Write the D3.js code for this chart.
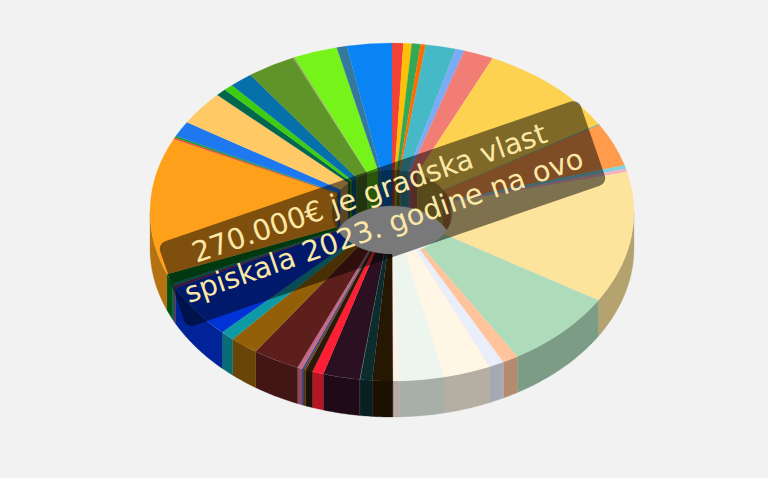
<!DOCTYPE html>
<html>
<head>
<meta charset="utf-8">
<script src="https://cdn.jsdelivr.net/npm/d3@7"></script>
<style>
    html, body { margin: 0; padding: 0; background: #f2f2f2; }
    svg { display: block; }
</style>
</head>
<body>
<div id="chart"></div>
<script>
// shares in euros, clockwise from 12 o'clock
const values = [
    2025, 1500, 1575, 900, 5475, 1575, 5400, 25575, 225, 11175, 975, 825,
    33900, 20475, 2850, 150, 2475, 150, 8475, 8025, 1125, 3675, 2175, 75,
    6600, 2025, 1275, 375, 300, 900, 8475, 5175, 2550, 14100, 600, 600,
    2550, 35400, 450, 450, 3975, 8775, 1875, 1725, 4200, 8775, 300, 7875,
    1800, 8100
];
const colors = [
    '#f44336', '#ffc107', '#34a853', '#ff6d00', '#45b9c5', '#7babf5', '#f27d75', '#fcd250',
    '#4fa88a', '#ff9b4b', '#7dd3e0', '#f4b3c2', '#fde49c', '#aedcbb', '#ffc49c', '#fbe3e3',
    '#e8effb', '#fbe9e7', '#fff6e6', '#ecf6ee', '#fff0e8', '#261703', '#0c2c2e', '#5f8a8a',
    '#2a1020', '#ff1e33', '#2b1808', '#6b4a18', '#1f3f9a', '#c76a8a', '#5d1f1c', '#936008',
    '#0e9aa5', '#0033d6', '#7b2d6e', '#0e8a80', '#00701f', '#ffa01a', '#e8503a', '#1a9a3a',
    '#1e78f0', '#ffc966', '#00664c', '#3ecc12', '#0670aa', '#5f9428', '#9aa86a', '#76f41a',
    '#35789b', '#0a84f5'
];
const captionLines = ['270.000€ je gradska vlast', 'spiskala 2023. godine na ovo'];

let width = 768, height = 478;
let cx = 392, cy = 212, rx = 242, tilt = 169 / 242, depth = 36, inner = 60.5;

let svg = d3.select('#chart').append('svg').attr('width', width).attr('height', height);
svg.append('rect').attr('width', width).attr('height', height).attr('fill', '#f2f2f2');

let slices = d3.pie().sort(null).value(d => d)(values);
slices.forEach((s, i) => { s.color = colors[i]; });

function shade(color) {
    let c = d3.rgb(color);
    return d3.rgb(c.r * 0.71, c.g * 0.71, c.b * 0.71);
}

// wall between the top rim and the same rim moved down by depth
function wallPath(radius, from, to) {
    let pts = d3.range(from, to, 0.01).concat([to]);
    return d3.area()
        .x(a => cx + radius * Math.sin(a))
        .y0(a => cy - radius * tilt * Math.cos(a))
        .y1(a => cy - radius * tilt * Math.cos(a) + depth)(pts);
}

function clip(s, lo, hi) {
    let from = Math.max(s.startAngle, lo), to = Math.min(s.endAngle, hi);
    return from < to ? [from, to] : null;
}

let walls = svg.append('g');

// inner wall, only the far half shows through the hole
[[0, Math.PI / 2], [Math.PI * 1.5, Math.PI * 2]].forEach(range => {
    slices.forEach(s => {
        let c = clip(s, range[0], range[1]);
        if (!c) return;
        walls.append('path')
            .attr('d', wallPath(inner, c[0], c[1]))
            .attr('fill', shade(s.color))
            .attr('stroke', shade(s.color))
            .attr('stroke-width', 0.3);
    });
});

// outer wall, near half
slices.forEach(s => {
    let c = clip(s, Math.PI / 2, Math.PI * 1.5);
    if (!c) return;
    walls.append('path')
        .attr('d', wallPath(rx, c[0], c[1]))
        .attr('fill', shade(s.color))
        .attr('stroke', shade(s.color))
        .attr('stroke-width', 0.3);
});

// top face, a plain arc squashed into an ellipse
let arc = d3.arc().innerRadius(inner).outerRadius(rx);
svg.append('g')
    .attr('transform', 'translate(' + cx + ',' + cy + ') scale(1,' + tilt + ')')
    .selectAll('path')
    .data(slices)
    .enter()
    .append('path')
    .attr('d', arc)
    .attr('fill', d => d.color)
    .attr('stroke', d => d.color)
    .attr('stroke-width', 0.2);

// caption box on top of the pie
let caption = svg.append('g').attr('transform', 'translate(382.5,213.5) rotate(-19)');
caption.append('rect')
    .attr('x', -222.5).attr('y', -44.5)
    .attr('width', 445).attr('height', 89)
    .attr('rx', 8)
    .attr('fill', 'rgba(0,0,0,0.5)');
caption.selectAll('text')
    .data(captionLines)
    .enter()
    .append('text')
    .attr('x', (d, i) => i ? -2.7 : -5.8)
    .attr('y', (d, i) => i ? 21.7 : -13.8)
    .attr('text-anchor', 'middle')
    .attr('font-family', '"DejaVu Sans"')
    .attr('font-size', 28.7)
    .attr('fill', '#fbe8a6')
    .text(d => d);
</script>
</body>
</html>
